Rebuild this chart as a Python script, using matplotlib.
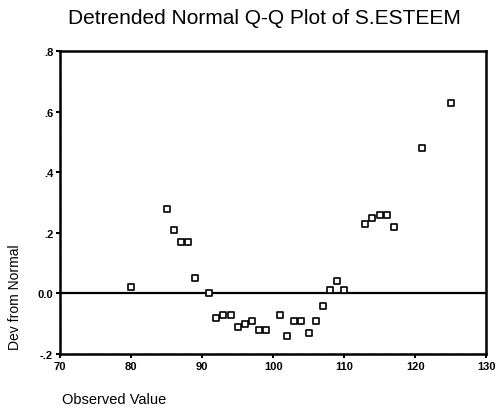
import matplotlib
matplotlib.use("Agg")
import matplotlib.pyplot as plt
from matplotlib.ticker import FixedLocator, MultipleLocator

observed = [80, 85, 86, 87, 88, 89, 91, 92, 93, 94, 95, 96, 97, 98, 99,
            101, 102, 103, 104, 105, 106, 107, 108, 109, 110,
            113, 114, 115, 116, 117, 121, 125]
deviation = [0.02, 0.28, 0.21, 0.17, 0.17, 0.05, 0.00, -0.08, -0.07, -0.07,
             -0.11, -0.10, -0.09, -0.12, -0.12,
             -0.07, -0.14, -0.09, -0.09, -0.13, -0.09, -0.04, 0.01, 0.04, 0.01,
             0.23, 0.25, 0.26, 0.26, 0.22, 0.48, 0.63]

x_ticks = [70, 80, 90, 100, 110, 120, 130]
y_ticks = [-0.2, 0.0, 0.2, 0.4, 0.6, 0.8]
y_labels = ["-.2", "0.0", ".2", ".4", ".6", ".8"]

plt.rcParams["font.family"] = ["Liberation Sans", "DejaVu Sans"]

fig = plt.figure(figsize=(4.97, 4.14), dpi=100)
ax = fig.add_axes([0.121, 0.1425, 0.857, 0.7315])

ax.axhline(0, color="black", lw=1.6, zorder=2)
ax.scatter(observed, deviation, marker="s", s=14, facecolors="white",
           edgecolors="black", linewidths=1.2, zorder=3)

ax.set_xlim(70, 130)
ax.set_ylim(-0.2, 0.8)
ax.xaxis.set_major_locator(FixedLocator(x_ticks))
ax.yaxis.set_major_locator(FixedLocator(y_ticks))
ax.set_yticklabels(y_labels)
ax.xaxis.set_minor_locator(MultipleLocator(2))
ax.yaxis.set_minor_locator(MultipleLocator(0.04))
ax.tick_params(which="major", direction="out", length=3, width=1.5,
               labelsize=8, pad=2)
ax.tick_params(which="minor", direction="in", length=1, width=0.5)
for lab in ax.get_xticklabels() + ax.get_yticklabels():
    lab.set_fontweight("bold")
for sp in ax.spines.values():
    sp.set_linewidth(1.8)

fig.text(0.533, 0.955, "Detrended Normal Q-Q Plot of S.ESTEEM",
         ha="center", va="center", fontsize=15)
fig.text(0.03, 0.283, "Dev from Normal", rotation=90,
         ha="center", va="center", fontsize=10)
fig.text(0.125, 0.034, "Observed Value", ha="left", va="center", fontsize=10.5)

fig.savefig("out.png", dpi=100)
